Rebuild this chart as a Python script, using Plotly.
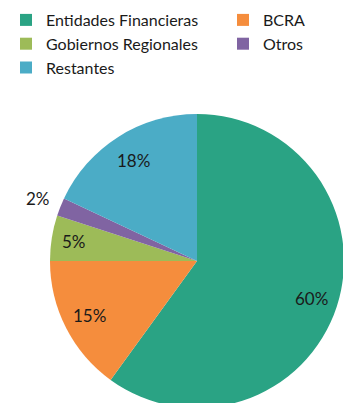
import math
import plotly.graph_objects as go

# Share of holdings by holder group (percent)
categories = ["Entidades Financieras", "BCRA", "Gobiernos Regionales", "Otros", "Restantes"]
shares = [60, 15, 5, 2, 18]
colors = ["#2AA384", "#F58D3D", "#9DBB58", "#8064A2", "#4BACC6"]
# radial position of each percentage label, as a fraction of the radius
label_radius = [0.82, 0.82, 0.85, 1.16, 0.81]

W, H = 460, 420
CX, CY, R = 197, 261, 147  # pie centre and radius in pixels

fig = go.Figure(
    go.Pie(
        labels=categories,
        values=shares,
        sort=False,
        direction="clockwise",
        rotation=0,
        marker=dict(colors=colors, line=dict(width=0)),
        textinfo="none",
        domain=dict(x=[(CX - R) / W, (CX + R) / W], y=[1 - (CY + R) / H, 1 - (CY - R) / H]),
        hoverinfo="label+percent",
    )
)

# percentage labels placed at each slice's mid-angle (clockwise from 12 o'clock)
total = sum(shares)
start = 0.0
for share, rf in zip(shares, label_radius):
    mid = (start + share / 2) / total * 2 * math.pi
    start += share
    px = CX + rf * R * math.sin(mid)
    py = CY - rf * R * math.cos(mid)
    fig.add_annotation(
        x=px / W, y=1 - py / H, xref="paper", yref="paper",
        text=f"{share}%", showarrow=False,
        font=dict(family="Lato", size=17, color="#1a1a1a"),
        xanchor="center", yanchor="middle",
    )

fig.update_layout(
    width=W,
    height=H,
    margin=dict(l=0, r=0, t=0, b=0),
    paper_bgcolor="white",
    plot_bgcolor="white",
    font=dict(family="Lato", size=16, color="#1a1a1a"),
    legend=dict(
        orientation="h",
        x=6 / W,
        y=1 - 3 / H,
        xanchor="left",
        yanchor="top",
        entrywidth=172,
        entrywidthmode="pixels",
        bgcolor="rgba(0,0,0,0)",
        font=dict(family="Lato", size=16, color="#1a1a1a"),
        itemclick=False,
    ),
)

fig.write_html("out.html", post_script="document.body.style.overflow='hidden';document.body.style.margin='0';")
